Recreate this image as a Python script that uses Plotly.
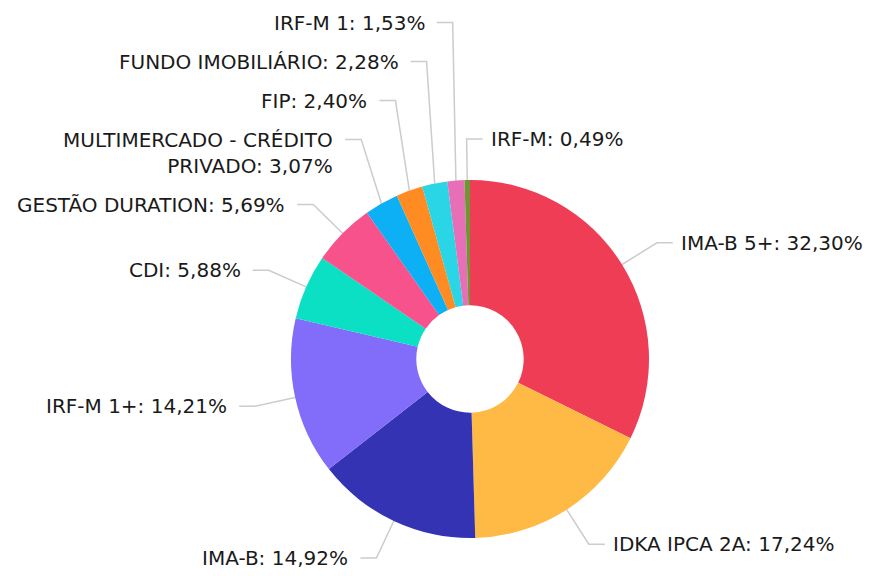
import math
import plotly.graph_objects as go

# ---- data ----
categories = ["IMA-B 5+", "IDKA IPCA 2A", "IMA-B", "IRF-M 1+", "CDI", "GESTÃO DURATION",
              "MULTIMERCADO - CRÉDITO<br>PRIVADO", "FIP", "FUNDO IMOBILIÁRIO", "IRF-M 1", "IRF-M"]
values = [32.30, 17.24, 14.92, 14.21, 5.88, 5.69, 3.07, 2.40, 2.28, 1.53, 0.49]
colors = ["#EF3D55", "#FFBA45", "#3333B4", "#826CFA", "#0BDFC4", "#F7528B",
          "#0EB0F5", "#FF8C22", "#2AD5E5", "#E76FB8", "#6E9632"]

# ---- layout constants (pixels) ----
W, H = 871, 576
OFF = 8      # page body margin compensation
CX, CY, R = 470 - OFF, 359 - OFF, 179
HOLE = 0.30
L1 = 41      # radial leader length
L2 = 16      # horizontal leader length
GAP_R, GAP_L = 6, 10   # leader to text
LH = 26      # text line height
SEP = 13     # min gap between label boxes
FONT = dict(family="DejaVu Sans, sans-serif", size=20, color="#1a1a1a")

def fmt(v):
    return f"{v:.2f}".replace(".", ",") + "%"

total = sum(values)
labels = []
cum = 0.0
for i, v in enumerate(values):
    mid = (cum + v / 2) / total * 2 * math.pi
    cum += v
    s, c = math.sin(mid), math.cos(mid)
    nlines = categories[i].count("<br>") + 1
    labels.append(dict(
        i=i, sx=CX + R * s, sy=CY - R * c,
        ex=CX + (R + L1) * s, ey=CY - (R + L1) * c,
        side=1 if s > -0.03 else -1, n=nlines,
        text=f"{categories[i]}: {fmt(v)}",
    ))

# push overlapping labels upward, side by side
for side in (1, -1):
    grp = sorted([l for l in labels if l["side"] == side], key=lambda l: -l["ey"])
    prev_top = None
    for l in grp:
        y = l["ey"]
        if prev_top is not None:
            y = min(y, prev_top - SEP - l["n"] * LH + LH / 2)
        l["y"] = y
        prev_top = y - LH / 2

fig = go.Figure()
fig.add_trace(go.Pie(
    labels=[c.replace("<br>", " ") for c in categories], values=values,
    marker=dict(colors=colors, line=dict(width=0)),
    hole=HOLE, sort=False, direction="clockwise", rotation=0,
    textinfo="none", showlegend=False,
    domain=dict(x=[(CX - R) / W, (CX + R) / W], y=[1 - (CY + R) / H, 1 - (CY - R) / H]),
))

annotations = []
for l in labels:
    hx = l["ex"] + l["side"] * L2
    gap = GAP_R if l["side"] == 1 else GAP_L
    fig.add_trace(go.Scatter(
        x=[l["sx"], l["ex"], hx], y=[l["sy"], l["y"], l["y"]],
        mode="lines", line=dict(color="#cccccc", width=1.5),
        hoverinfo="skip", showlegend=False,
    ))
    annotations.append(dict(
        x=hx + l["side"] * gap, y=l["y"] + (l["n"] - 1) * LH / 2,
        xref="x", yref="y", text=l["text"], showarrow=False,
        xanchor="left" if l["side"] == 1 else "right", yanchor="middle",
        align="left" if l["side"] == 1 else "right", font=FONT,
    ))

fig.update_layout(
    width=W, height=H, margin=dict(l=0, r=0, t=0, b=0),
    paper_bgcolor="white", plot_bgcolor="white",
    xaxis=dict(range=[0, W], visible=False, fixedrange=True),
    yaxis=dict(range=[H, 0], visible=False, fixedrange=True),
    annotations=annotations,
)
fig.write_html("out.html")
